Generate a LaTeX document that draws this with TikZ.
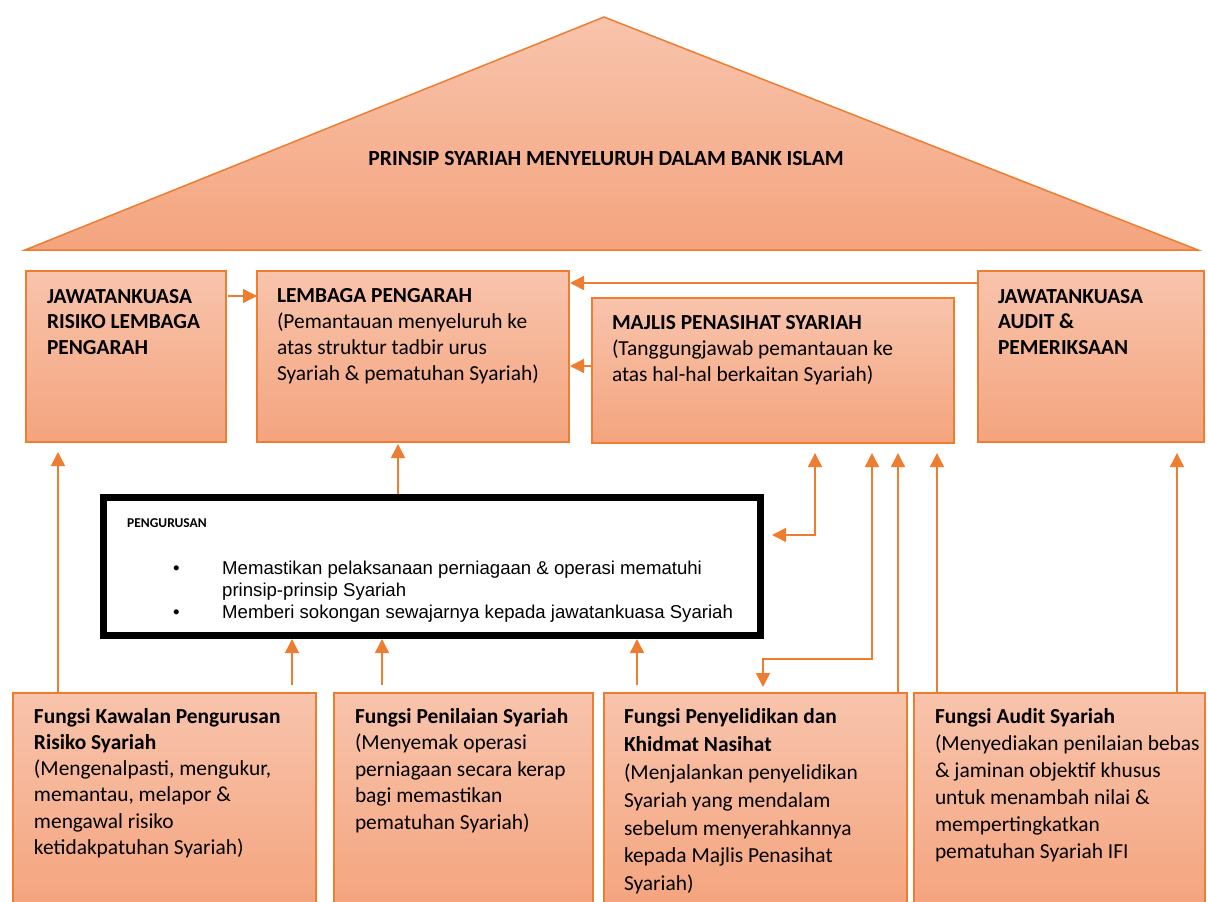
\documentclass[tikz,border=0pt]{standalone}
\usepackage{fontspec}
\setmainfont{Carlito}
\newfontfamily\arialf{Liberation Sans}
\usetikzlibrary{arrows.meta,calc}
\definecolor{orcol}{RGB}{237,125,49}
\definecolor{boxtop}{RGB}{248,196,172}
\definecolor{boxbot}{RGB}{244,164,126}
\tikzset{
  ln/.style={draw=orcol, line width=1.5pt},
  arr/.style={ln, -{Triangle[length=14pt,width=14pt]}},
  darr/.style={ln, {Triangle[length=14pt,width=14pt]}-{Triangle[length=14pt,width=14pt]}},
  obox/.style={draw=orcol, line width=1.5pt, top color=boxtop, bottom color=boxbot,
    anchor=north west, inner sep=0pt, outer sep=0pt},
  txt/.style={anchor=north west, inner sep=0pt, outer sep=0pt, align=left,
    font=\fontsize{21.4}{#1}\selectfont},
}
\begin{document}
\begin{tikzpicture}[x=1pt,y=-1pt]
\useasboundingbox (0,0) rectangle (1208,902);

% roof
\path[draw=orcol, line width=1.5pt, top color=boxtop, bottom color=boxbot, line join=miter]
  (25,250) -- (604,17) -- (1198,250) -- cycle;
\node[inner sep=0pt, font=\fontsize{21.6}{25}\selectfont\bfseries] (roof) at (606,158)
  {PRINSIP SYARIAH MENYELURUH DALAM BANK ISLAM};

% top boxes
\node[obox, minimum width=200pt, minimum height=171pt] (jrlp) at (26,271) {};
\node[obox, minimum width=312pt, minimum height=171pt] (lp) at (257,271) {};
\node[obox, minimum width=362pt, minimum height=145pt] (mps) at (592,298) {};
\node[obox, minimum width=226pt, minimum height=171pt] (jap) at (978,271) {};

\node[txt=25.5] (tjrlp) at (47,285.2) {\strut\bfseries JAWATANKUASA\\\bfseries RISIKO LEMBAGA\\\bfseries PENGARAH};
\node[txt=25.7] (tlp) at (277,285) {\strut\textbf{LEMBAGA PENGARAH}\\(Pemantauan menyeluruh ke\\atas struktur tadbir urus\\Syariah \& pematuhan Syariah)};
\node[txt=25.7] (tmps) at (612,312) {\strut\textbf{MAJLIS PENASIHAT SYARIAH}\\(Tanggungjawab pemantauan ke\\atas hal-hal berkaitan Syariah)};
\node[txt=25.5] (tjap) at (998,285.2) {\strut\bfseries JAWATANKUASA\\\bfseries AUDIT \&\\\bfseries PEMERIKSAAN};

% management box
\node[draw=black, line width=7pt, fill=white, anchor=north west, inner sep=0pt, outer sep=0pt,
  minimum width=656.5pt, minimum height=138pt] (peng) at (103.5,497.5) {};
\node[anchor=north west, inner sep=0pt, font=\fontsize{13.5}{16}\selectfont\bfseries] (tpeng) at (127,516.3) {\strut PENGURUSAN};
\node[anchor=north west, inner sep=0pt, align=left, font=\arialf\fontsize{18.6}{22}\selectfont] (bul) at (173,558.6)
  {\strut\textbullet\\\\\textbullet};
\node[anchor=north west, inner sep=0pt, align=left, font=\arialf\fontsize{18.6}{22}\selectfont] (tbul) at (222,558.6)
  {\strut Memastikan pelaksanaan perniagaan \& operasi mematuhi\\prinsip-prinsip Syariah\\Memberi sokongan sewajarnya kepada jawatankuasa Syariah};

% bottom boxes
\node[obox, minimum width=303pt, minimum height=215pt] (fk) at (13,693) {};
\node[obox, minimum width=259pt, minimum height=215pt] (fp) at (334,693) {};
\node[obox, minimum width=303pt, minimum height=215pt] (fpy) at (604,693) {};
\node[obox, minimum width=291pt, minimum height=215pt] (fa) at (914,693) {};

\node[txt=26.3] (tfk) at (34,704.6) {\strut\textbf{Fungsi Kawalan Pengurusan}\\\textbf{Risiko Syariah}\\(Mengenalpasti, mengukur,\\memantau, melapor \&\\mengawal risiko\\ketidakpatuhan Syariah)};
\node[txt=26.6] (tfp) at (355,704.4) {\strut\textbf{Fungsi Penilaian Syariah}\\(Menyemak operasi\\perniagaan secara kerap\\bagi memastikan\\pematuhan Syariah)};
\node[txt=27.8] (tfpy) at (624,704.5) {\strut\textbf{Fungsi Penyelidikan dan}\\\textbf{Khidmat Nasihat}\\(Menjalankan penyelidikan\\Syariah yang mendalam\\sebelum menyerahkannya\\kepada Majlis Penasihat\\Syariah)};
\node[txt=27] (tfa) at (935,704.1) {\strut\textbf{Fungsi Audit Syariah}\\(Menyediakan penilaian bebas\\\& jaminan objektif khusus\\untuk menambah nilai \&\\mempertingkatkan\\pematuhan Syariah IFI};

% connectors
\draw[arr] ($(jrlp.north east)+(2,25)$) -- ($(lp.north west)+(0,25)$);
\draw[arr] ($(jap.north west)+(0,12)$) -- ($(lp.north east)+(1,12)$);
\draw[arr] ($(mps.north west)+(0,68)$) -- ($(lp.north east)+(1,95)$);
\draw[arr] ($(peng.north west)+(294.5,-3.5)$) -- ($(lp.south west)+(141,2)$);
\draw[arr] ($(fk.north west)+(45,0)$) -- ($(jrlp.south west)+(32,10)$);
\draw[darr] ($(mps.south west)+(223,10)$) |- ($(peng.north east)+(12,37.5)$);
\draw[darr] ($(mps.south west)+(280,10)$) |- ($(fpy.north west)+(159,-34)$) -- ($(fpy.north west)+(159,-6)$);
\draw[arr] ($(fpy.north west)+(294,0)$) -- ($(mps.south west)+(306,10)$);
\draw[arr] ($(fa.north west)+(23,0)$) -- ($(mps.south west)+(345,10)$);
\draw[arr] ($(fa.north west)+(263,0)$) -- ($(jap.south west)+(199,11)$);
\draw[arr] ($(fk.north west)+(279,-8)$) -- ($(peng.south west)+(188.5,3.5)$);
\draw[arr] ($(fp.north west)+(48,-8)$) -- ($(peng.south west)+(278.5,3.5)$);
\draw[arr] ($(fpy.north west)+(33,-8)$) -- ($(peng.south west)+(533.5,3.5)$);
\end{tikzpicture}
\end{document}
